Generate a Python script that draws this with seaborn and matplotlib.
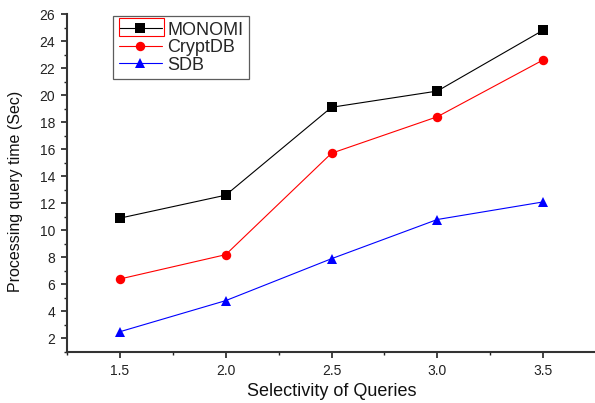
import matplotlib
matplotlib.use("Agg")
import matplotlib.pyplot as plt
import seaborn as sns
import pandas as pd
from matplotlib.ticker import MultipleLocator
from matplotlib.patches import Rectangle
from matplotlib.lines import Line2D

selectivity = [1.5, 2.0, 2.5, 3.0, 3.5]
monomi = [10.9, 12.6, 19.1, 20.3, 24.8]
cryptdb = [6.4, 8.2, 15.7, 18.4, 22.6]
sdb = [2.5, 4.8, 7.9, 10.8, 12.1]
series_names = ["MONOMI", "CryptDB", "SDB"]
colors = ["black", "red", "blue"]
markers = ["s", "o", "^"]

df = pd.DataFrame({
    "x": selectivity * 3,
    "y": monomi + cryptdb + sdb,
    "series": [n for n in series_names for _ in selectivity],
})

sns.set_style("ticks")
plt.rcParams["font.family"] = ["Liberation Sans", "DejaVu Sans"]

W, H = 595, 403
fig = plt.figure(figsize=(5.95, 4.03), dpi=100)
ax = fig.add_axes([67/W, 1-352/H, 529/W, 338/H])

sns.lineplot(data=df, x="x", y="y", hue="series", style="series",
             palette=dict(zip(series_names, colors)),
             markers=dict(zip(series_names, markers)),
             dashes=False, markersize=6.8, linewidth=0.8,
             markeredgewidth=0, ax=ax, legend=False)

ax.set_xlim(1.25, 3.75)
ax.set_ylim(1, 26)
ax.xaxis.set_major_locator(MultipleLocator(0.5))
ax.xaxis.set_minor_locator(MultipleLocator(0.25))
ax.yaxis.set_major_locator(MultipleLocator(2))
ax.yaxis.set_minor_locator(MultipleLocator(1))
ax.set_xticks(selectivity)
ax.set_xticklabels([f"{v:.1f}" for v in selectivity])
ax.tick_params(axis="both", which="major", direction="out", length=4.5, width=1.2,
               labelsize=10, colors="#222222", pad=4)
ax.tick_params(axis="both", which="minor", direction="out", length=2.5, width=1.0, colors="#222222")
ax.set_xlabel("Selectivity of Queries", fontsize=13, color="#111111", va="center")
ax.set_ylabel("Processing query time (Sec)", fontsize=11.5, color="#111111", va="center")
ax.xaxis.set_label_coords(0.5, (352-392)/338)
ax.yaxis.set_label_coords((16-67)/529, (352-191)/338)
sns.despine(ax=ax)
for s in ["left", "bottom"]:
    ax.spines[s].set_linewidth(1.5)
    ax.spines[s].set_color("#333333")

handles = [Line2D([], [], color=c, marker=m, markersize=6.8, linewidth=0.8, markeredgewidth=0)
           for c, m in zip(colors, markers)]
leg = ax.legend(handles, series_names, loc="upper left",
                bbox_to_anchor=((113-67)/529, (352-16)/338),
                frameon=True, fancybox=False, edgecolor="#333333", fontsize=13,
                handlelength=2.4, handletextpad=0.3, borderpad=0.32, labelspacing=0.02,
                borderaxespad=0)
leg.get_frame().set_linewidth(0.9)

# red selection box around first legend entry handle
fig.patches.append(Rectangle((119/W, 1-36/H), 45/W, 18/H, transform=fig.transFigure,
                             fill=False, edgecolor="red", linewidth=0.8))

fig.savefig("out.png", dpi=100)
